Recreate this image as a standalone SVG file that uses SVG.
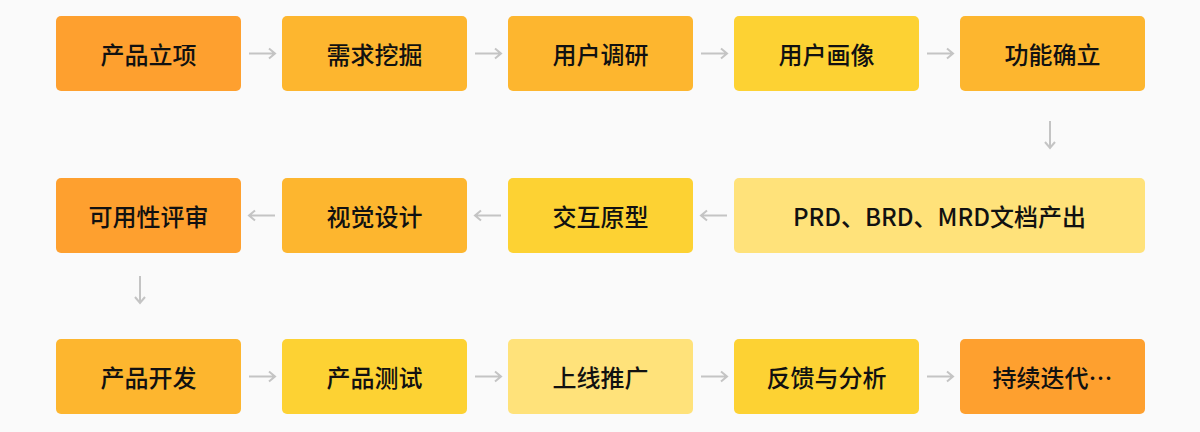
<svg xmlns="http://www.w3.org/2000/svg" width="1200" height="432" viewBox="0 0 1200 432">
<style>
text{font-family:"Noto Sans CJK SC","Noto Sans",sans-serif;font-size:24px;font-weight:500;fill:#111;text-anchor:middle;dominant-baseline:central}
.a{fill:#FEA02F}.b{fill:#FDB62F}.c{fill:#FDD233}.d{fill:#FFE27A}
.conn path{stroke:#C4C4C4;stroke-width:2;fill:none}
</style>
<rect width="1200" height="432" fill="#FAFAFA"/>
<g id="n1"><rect class="a" x="56" y="16" width="185" height="75" rx="5"/><text x="148.5" y="53.5">产品立项</text></g>
<g id="n2"><rect class="b" x="282" y="16" width="185" height="75" rx="5"/><text x="374.5" y="53.5">需求挖掘</text></g>
<g id="n3"><rect class="b" x="508" y="16" width="185" height="75" rx="5"/><text x="600.5" y="53.5">用户调研</text></g>
<g id="n4"><rect class="c" x="734" y="16" width="185" height="75" rx="5"/><text x="826.5" y="53.5">用户画像</text></g>
<g id="n5"><rect class="b" x="960" y="16" width="185" height="75" rx="5"/><text x="1052.5" y="53.5">功能确立</text></g>
<g id="n6"><rect class="d" x="734" y="178" width="411" height="75" rx="5"/><text x="939.5" y="215.5">PRD、BRD、MRD文档产出</text></g>
<g id="n7"><rect class="c" x="508" y="178" width="185" height="75" rx="5"/><text x="600.5" y="215.5">交互原型</text></g>
<g id="n8"><rect class="b" x="282" y="178" width="185" height="75" rx="5"/><text x="374.5" y="215.5">视觉设计</text></g>
<g id="n9"><rect class="a" x="56" y="178" width="185" height="75" rx="5"/><text x="148.5" y="215.5">可用性评审</text></g>
<g id="n10"><rect class="b" x="56" y="339" width="185" height="75" rx="5"/><text x="148.5" y="376.5">产品开发</text></g>
<g id="n11"><rect class="c" x="282" y="339" width="185" height="75" rx="5"/><text x="374.5" y="376.5">产品测试</text></g>
<g id="n12"><rect class="d" x="508" y="339" width="185" height="75" rx="5"/><text x="600.5" y="376.5">上线推广</text></g>
<g id="n13"><rect class="c" x="734" y="339" width="185" height="75" rx="5"/><text x="826.5" y="376.5">反馈与分析</text></g>
<g id="n14"><rect class="a" x="960" y="339" width="185" height="75" rx="5"/><text x="1052.5" y="376.5">持续迭代…</text></g>
<g class="conn" id="connectors">
<path d="M249 53.5h26m-6-5l6 5l-6 5"/>
<path d="M475 53.5h26m-6-5l6 5l-6 5"/>
<path d="M701 53.5h26m-6-5l6 5l-6 5"/>
<path d="M927 53.5h26m-6-5l6 5l-6 5"/>
<path d="M1050 121v27m-5-6l5 6l5-6"/>
<path d="M727 215.5h-26m6-5l-6 5l6 5"/>
<path d="M501 215.5h-26m6-5l-6 5l6 5"/>
<path d="M275 215.5h-26m6-5l-6 5l6 5"/>
<path d="M140 276v27m-5-6l5 6l5-6"/>
<path d="M249 376.5h26m-6-5l6 5l-6 5"/>
<path d="M475 376.5h26m-6-5l6 5l-6 5"/>
<path d="M701 376.5h26m-6-5l6 5l-6 5"/>
<path d="M927 376.5h26m-6-5l6 5l-6 5"/>
</g>
</svg>
